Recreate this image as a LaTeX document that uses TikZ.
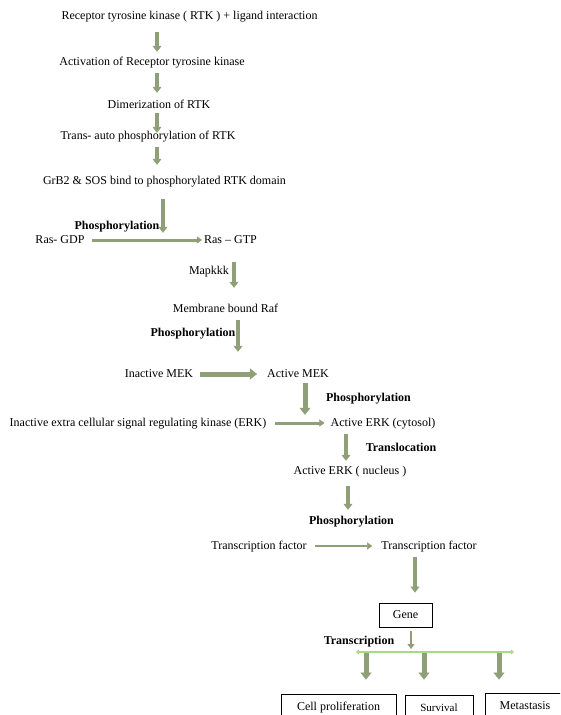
\documentclass[tikz,border=0pt]{standalone}
\usepackage{fontspec}
\setmainfont{Liberation Serif}
\usetikzlibrary{arrows.meta,calc}

\definecolor{sage}{HTML}{8FA078}
\definecolor{leaf}{HTML}{A8D983}

\begin{document}
\begin{tikzpicture}[x=1pt, y=-1pt,
  lbl/.style={inner sep=1pt, text height=9pt, text depth=3pt, font=\fontsize{12}{14}\selectfont},
  bold/.style={lbl, font=\fontsize{12}{14}\selectfont\bfseries},
  box/.style={lbl, draw, line width=0.8pt, minimum height=26pt},
  flow/.style={draw=sage, line width=3.5pt, -{Triangle[width=9pt,length=6pt,line width=0.4pt]}},
  flowthick/.style={flow, line width=5pt, -{Triangle[width=11pt,length=7pt,line width=0.4pt]}},
  flowthin/.style={flow, line width=2.5pt, -{Triangle[width=7pt,length=5pt,line width=0.4pt]}},
  split/.style={draw=leaf, line width=2pt, {Triangle[width=5pt,length=3pt]}-{Triangle[width=5pt,length=3pt]}}]
\clip (0,0) rectangle (560,715);

\node[lbl] (rtk) at (189.5,16) {Receptor tyrosine kinase ( RTK ) + ligand interaction};
\node[lbl] (actrtk) at (152,62) {Activation of Receptor tyrosine kinase};
\node[lbl] (dimer) at (159,105) {Dimerization of RTK};
\node[lbl] (transauto) at (148,136) {Trans- auto phosphorylation of RTK};
\node[lbl] (grb) at (164.5,181) {GrB2 \& SOS bind to phosphorylated RTK domain};
\node[bold] (ph1) at (117,226) {Phosphorylation};
\node[lbl] (rasgdp) at (60,240) {Ras- GDP};
\node[lbl] (rasgtp) at (230.5,240) {Ras -- GTP};
\node[lbl] (mapkkk) at (209,271) {Mapkkk};
\node[lbl] (raf) at (225.5,309) {Membrane bound Raf};
\node[bold] (ph2) at (193,333) {Phosphorylation};
\node[lbl] (inmek) at (159,374) {Inactive MEK};
\node[lbl] (actmek) at (298,374) {Active MEK};
\node[bold] (ph3) at (368.5,398) {Phosphorylation};
\node[lbl] (inerk) at (138,423) {Inactive extra cellular signal regulating kinase (ERK)};
\node[lbl] (acterk) at (383,423) {Active ERK (cytosol)};
\node[bold] (transloc) at (401,448) {Translocation};
\node[lbl] (erknuc) at (350,471) {Active ERK ( nucleus )};
\node[bold] (ph4) at (351.5,521) {Phosphorylation};
\node[lbl] (tfin) at (259,546) {Transcription factor};
\node[lbl] (tfout) at (429,546) {Transcription factor};
\node[box, minimum width=53pt, minimum height=24pt] (gene) at (405.5,615) {Gene};
\node[bold] (transcr) at (359,641) {Transcription};
\node[box, minimum width=115pt] (prolif) at (338.5,707) {Cell proliferation};
\node[box, minimum width=68pt, font=\fontsize{11}{13}\selectfont] (surv) at (439,708) {Survival};
\node[box, minimum width=80pt] (meta) at (525,706) {Metastasis};
\coordinate (splitl) at (356,652);
\coordinate (splitr) at (514,652);

\draw[flow, shorten <=9pt, shorten >=3pt] (rtk.south -| 157,0) -- (actrtk.north -| 157,0);
\draw[flow, shorten <=4pt, shorten >=5pt] (actrtk.south -| 157,0) -- (dimer.north -| 157,0);
\draw[flow, shorten <=1pt, shorten >=-4pt] (dimer.south -| 157,0) -- (transauto.north -| 157,0);
\draw[flow, shorten <=4pt, shorten >=9pt] (transauto.south -| 157,0) -- (grb.north -| 157,0);
\draw[flow, shorten <=11pt] (grb.south -| 163,0) -- (rasgdp.north -| 163,0);
\draw[flowthin, line width=3pt, shorten <=6pt, shorten >=1pt] (rasgdp.east) -- (rasgtp.west);
\draw[flow, shorten <=15pt, shorten >=14pt] (rasgtp.south -| 234,0) -- (raf.north -| 234,0);
\draw[flow, shorten <=4pt, shorten >=15pt] (raf.south -| 238,0) -- (actmek.north -| 238,0);
\draw[flowthick, shorten <=6pt, shorten >=9pt] (inmek.east) -- (actmek.west);
\draw[flowthick, shorten <=2pt, shorten >=1pt] (actmek.south -| 305,0) -- (acterk.north -| 305,0);
\draw[flowthin, line width=3pt, shorten <=8pt, shorten >=5pt] (inerk.east) -- (acterk.west);
\draw[flow, shorten <=4pt, shorten >=3pt] (acterk.south -| 346,0) -- (erknuc.north -| 346,0);
\draw[flow, shorten <=8pt, shorten >=29pt] (erknuc.south -| 348,0) -- (tfin.north -| 348,0);
\draw[flowthin, shorten <=7pt, shorten >=8pt] (tfin.east) -- (tfout.west);
\draw[flow, shorten <=4pt, shorten >=10pt] (tfout.south -| 415,0) -- (gene.north -| 415,0);
\draw[flowthin, line width=2pt, shorten <=4pt, shorten >=3pt] (gene.south -| 411,0) -- (splitl -| 411,0);
\draw[split] (splitl) -- (splitr);
\draw[flowthick, shorten <=1pt, shorten >=14pt] (splitl -| 366,0) -- (prolif.north -| 366,0);
\draw[flowthick, shorten <=1pt, shorten >=15pt] (splitl -| 424,0) -- (surv.north -| 424,0);
\draw[flowthick, shorten <=1pt, shorten >=13pt] (splitl -| 499,0) -- (meta.north -| 499,0);
\end{tikzpicture}
\end{document}
